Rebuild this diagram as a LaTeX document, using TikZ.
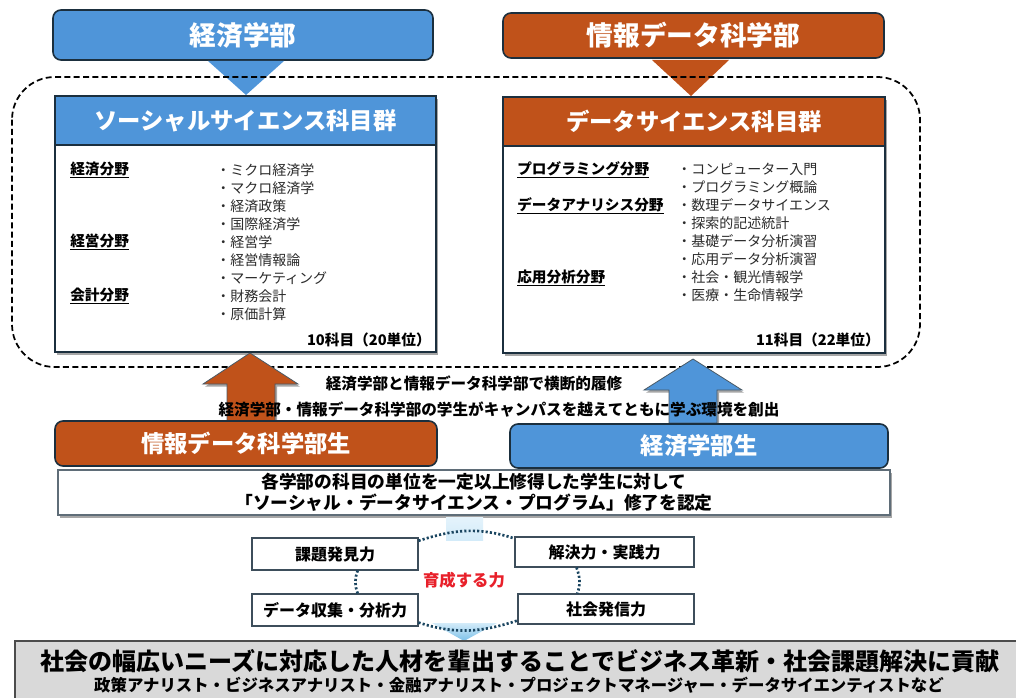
\documentclass[tikz,border=0pt]{standalone}
\usepackage{fontspec}
\setmainfont{Noto Sans CJK JP}
\usetikzlibrary{shadows,fit,calc}
\definecolor{ublue}{HTML}{4F95D9}
\definecolor{uorange}{HTML}{C0521A}
\definecolor{navy}{HTML}{1B2F3E}
\definecolor{dotc}{HTML}{1A4560}
\definecolor{lgray}{HTML}{D9D9D9}
\definecolor{skyA}{HTML}{D3EBF9}
\definecolor{skyB}{HTML}{7CC1E9}
\definecolor{ured}{HTML}{E8202A}
\definecolor{itemc}{HTML}{2B2B2B}
\begin{document}
\begin{tikzpicture}[x=0.75pt,y=-0.75pt,
  shad/.style={drop shadow={shadow xshift=1.5pt,shadow yshift=-2pt,opacity=0.35,fill=black}},
  facbox/.style={rounded corners=6pt,draw=navy,line width=1.2pt,inner sep=0pt},
  factext/.style={text=white,inner sep=0pt,font=\fontsize{20pt}{24pt}\selectfont\bfseries},
  stutext/.style={text=white,inner sep=0pt,font=\fontsize{17.5pt}{22pt}\selectfont\bfseries},
  headbox/.style={draw=navy,line width=1.2pt,inner sep=0pt},
  headtext/.style={text=white,inner sep=0pt,font=\fontsize{17.5pt}{22pt}\selectfont\bfseries},
  bodybox/.style={draw=navy,line width=1.5pt,fill=white,inner sep=0pt,shad},
  cat/.style={anchor=west,inner sep=0pt,font=\fontsize{11pt}{13.5pt}\selectfont\bfseries},
  items/.style={anchor=north west,inner sep=0pt,align=left,text=itemc,font=\fontsize{10.5pt}{13.5pt}\selectfont},
  cnt/.style={anchor=east,inner sep=0pt,font=\fontsize{11pt}{13pt}\selectfont\bfseries},
  midtext/.style={inner sep=0pt,font=\fontsize{11.7pt}{14pt}\selectfont\bfseries},
  abil/.style={draw=navy!85,fill=white,line width=0.8pt,inner sep=0pt},
  abiltext/.style={inner sep=0pt,font=\fontsize{12pt}{14pt}\selectfont\bfseries},
  dotlink/.style={dotc,line width=2pt,dash pattern=on 1.6pt off 1.6pt},
  uparrow/.style={draw=navy!80,line width=0.6pt,shad}
]
\useasboundingbox (0,0) rectangle (1016,698);

% faculty header boxes
\node[facbox,fill=ublue,fit={(53,10)(433,60)}] (econ) {};
\node[factext] (econ-t) at (econ.center) {経済学部};
\node[facbox,fill=uorange,fit={(503,13)(884,58)}] (info) {};
\node[factext] (info-t) at (info.center) {情報データ科学部};

% triangles under faculty boxes
\fill[ublue] (208,61) -- (284,61) -- (246,95) -- cycle;
\fill[uorange] (652,60) -- (729,60) -- (691,96) -- cycle;

% dashed enclosure
\draw[line width=1.3pt,dash pattern=on 4.5pt off 2.5pt,rounded corners=32pt] (12,77) rectangle (920,367);

% column boxes
\node[bodybox,fit={(55,96)(436,352)}] (socbody) {};
\node[headbox,fill=ublue,fit={(55,96)(436,145)}] (soc) {};
\node[headtext] (soc-t) at (soc.center) {ソーシャルサイエンス科目群};
\node[bodybox,fit={(503,97)(885,353)}] (dsbody) {};
\node[headbox,fill=uorange,fit={(503,97)(885,146)}] (ds) {};
\node[headtext] (ds-t) at (ds.center) {データサイエンス科目群};

% left column content
\node[cat] (c1) at (70,170) {\underline{経済分野}};
\node[cat] (c2) at (70,242) {\underline{経営分野}};
\node[cat] (c3) at (70,296) {\underline{会計分野}};
\node[items] (litems) at (216,163) {・ミクロ経済学\\・マクロ経済学\\・経済政策\\・国際経済学\\・経営学\\・経営情報論\\・マーケティング\\・財務会計\\・原価計算};
\node[cnt] (lcnt) at (431,340) {10科目（20単位）};

% right column content
\node[cat] (d1) at (517,170) {\underline{プログラミング分野}};
\node[cat] (d2) at (517,206) {\underline{データアナリシス分野}};
\node[cat] (d3) at (517,278) {\underline{応用分析分野}};
\node[items] (ritems) at (677,163) {・コンピューター入門\\・プログラミング概論\\・数理データサイエンス\\・探索的記述統計\\・基礎データ分析演習\\・応用データ分析演習\\・社会・観光情報学\\・医療・生命情報学};
\node[cnt] (rcnt) at (880,340) {11科目（22単位）};

% up arrows
\filldraw[uparrow,fill=uorange] (250,353) -- (298,384) -- (275,384) -- (275,421) -- (227,421) -- (227,384) -- (203,384) -- cycle;
\filldraw[uparrow,fill=ublue] (693,359) -- (742,390) -- (717,390) -- (717,423) -- (669,423) -- (669,390) -- (644,390) -- cycle;

% middle texts
\node[midtext] (t1) at (474,383) {経済学部と情報データ科学部で横断的履修};
\node[midtext] (t2) at (499,410) {経済学部・情報データ科学部の学生がキャンパスを越えてともに学ぶ環境を創出};

% student boxes
\node[facbox,fill=uorange,fit={(55,421)(437,466)}] (infost) {};
\node[stutext] (infost-t) at (infost.center) {情報データ科学部生};
\node[facbox,fill=ublue,fit={(510,424)(888,468)}] (econst) {};
\node[stutext] (econst-t) at (econst.center) {経済学部生};

% certification box
\node[draw=navy!70,line width=0.8pt,fill=white,shad,inner sep=0pt,fit={(58,470)(890,515)}] (cert) {};
\node[inner sep=0pt,align=center,font=\fontsize{13.3pt}{15.75pt}\selectfont\bfseries] (certtext) at (cert.center) {各学部の科目の単位を一定以上修得した学生に対して\\「ソーシャル・データサイエンス・プログラム」修了を認定};

% light blue flow pieces
\shade[top color=skyA!60,bottom color=skyA] (446,517) rectangle (483,540);
\shade[top color=skyA,bottom color=skyB] (432,623) -- (497,623) -- (464,641) -- cycle;

% abilities
\node[abil,fit={(252,538)(418,570)}] (kadai) {};
\node[abiltext] (kadai-t) at (kadai.center) {課題発見力};
\node[abil,fit={(515,537)(694,567)}] (kaiketsu) {};
\node[abiltext] (kaiketsu-t) at (kaiketsu.center) {解決力・実践力};
\node[abil,fit={(252,594)(418,626)}] (datab) {};
\node[abiltext] (datab-t) at (datab.center) {データ収集・分析力};
\node[abil,fit={(518,594)(694,624)}] (hasshin) {};
\node[abiltext] (hasshin-t) at (hasshin.center) {社会発信力};
\node[inner sep=0pt,text=ured,font=\fontsize{12.3pt}{14pt}\selectfont\bfseries] (ikusei) at (464,580) {育成する力};

\draw[dotlink] ([yshift=-2.5pt]kadai.north east) to[out=18,in=162] ([yshift=-1.5pt]kaiketsu.north west);
\draw[dotlink] ([xshift=17pt]kadai.south) to[out=-110,in=110] ([xshift=17pt]datab.north);
\draw[dotlink] ([xshift=-21pt]kaiketsu.south) to[out=-70,in=70] ([xshift=-21.5pt]hasshin.north);
\draw[dotlink] ([yshift=3pt]datab.south east) to[out=-18,in=198] ([yshift=3pt]hasshin.south west);

% bottom outcome box
\node[draw=black!70,line width=0.8pt,fill=lgray,inner sep=0pt,fit={(15,641)(1030,712)}] (outcome) {};
\node[inner sep=0pt,font=\fontsize{18pt}{20pt}\selectfont\bfseries] (o1) at (520,661) {社会の幅広いニーズに対応した人材を輩出することでビジネス革新・社会課題解決に貢献};
\node[inner sep=0pt,font=\fontsize{12.3pt}{14pt}\selectfont\bfseries] (o2) at (519,685) {政策アナリスト・ビジネスアナリスト・金融アナリスト・プロジェクトマネージャー・データサイエンティストなど};
\end{tikzpicture}
\end{document}
